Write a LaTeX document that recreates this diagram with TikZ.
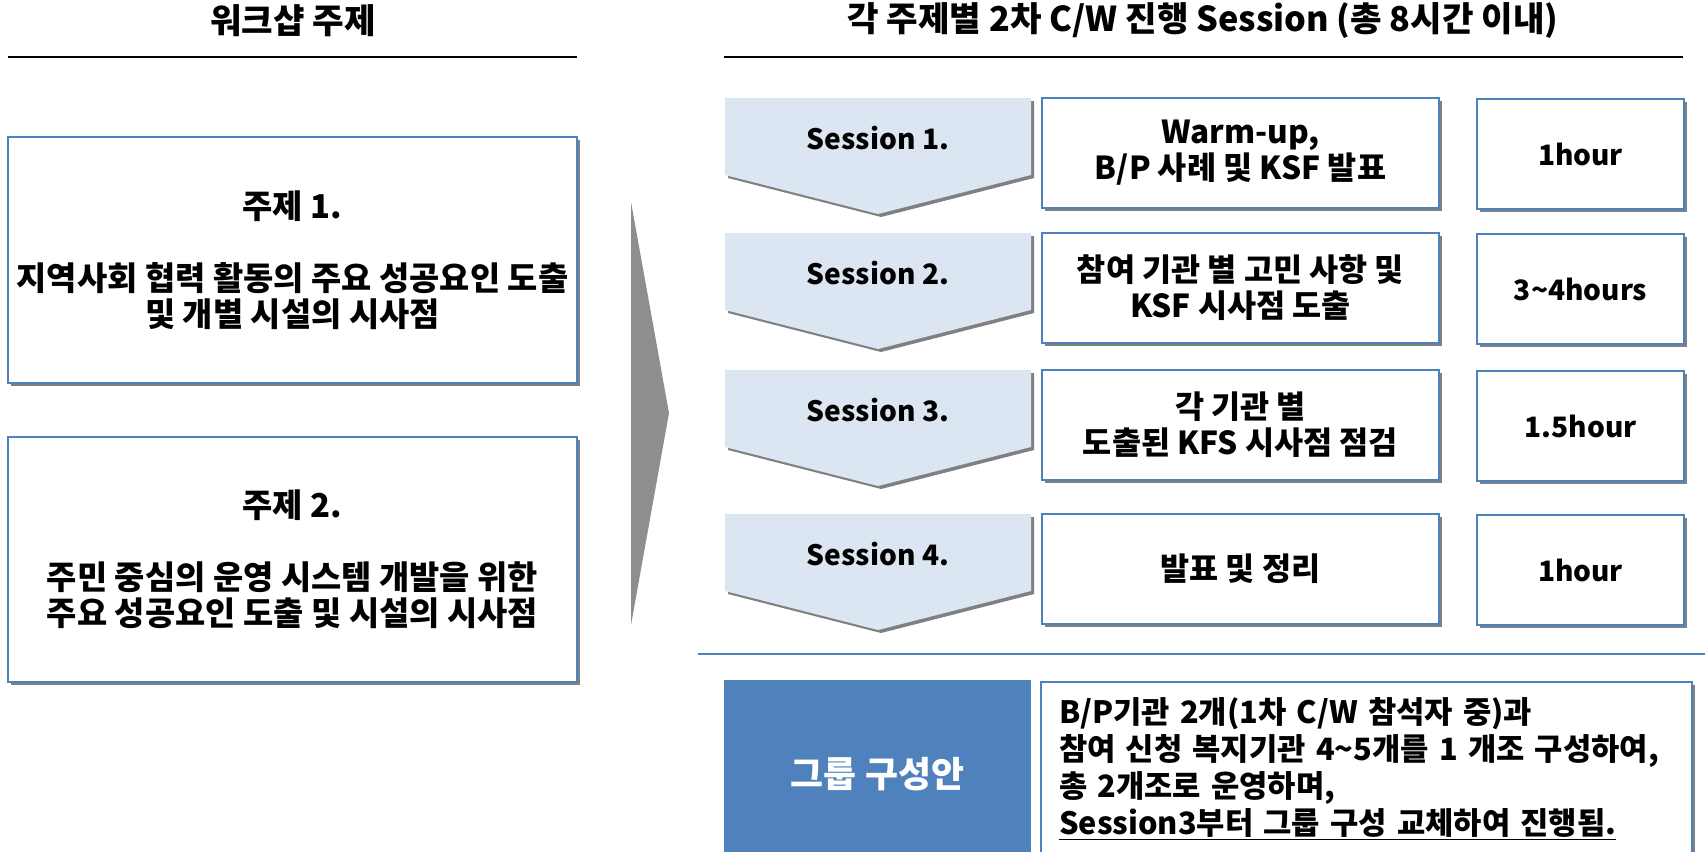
\documentclass[tikz,border=0pt]{standalone}
\usepackage{fontspec}
\setmainfont{Noto Sans CJK KR}
\usetikzlibrary{shadows}
\definecolor{boxblue}{HTML}{4F81BD}
\definecolor{sessfill}{HTML}{DCE6F2}
\definecolor{arrowgray}{HTML}{8E8E8E}
\newcommand{\ulthick}[1]{\setbox0\hbox{#1}\leavevmode\rlap{\rule[-3.5pt]{\wd0}{1pt}}\box0}
\newcommand{\sz}[1]{\bfseries\fontsize{#1}{20.5}\selectfont}
\tikzset{
  txt/.style={font=\sz{18}, align=center},
  boxshadow/.style={drop shadow={shadow xshift=0.06cm, shadow yshift=-0.06cm, fill=black!50, opacity=1}},
  whitebox/.style={txt, draw=boxblue, line width=0.8pt, fill=white, boxshadow, inner sep=0pt},
  sessarrow/.style={fill=sessfill, boxshadow},
  headline/.style={line width=1.2pt},
}
\begin{document}
\begin{tikzpicture}[x=0.02cm, y=-0.02cm]
  \useasboundingbox (0,0) rectangle (1705,852);
  \clip (0,0) rectangle (1705,852);
  % headings
  \node[txt, font=\sz{19.5}] (lhead) at (293,21) {워크샵 주제};
  \node[txt, font=\sz{19.5}] (rhead) at (1203,21) {각 주제별 2차 C/W 진행 Session (총 8시간 이내)};
  \draw[headline] (8,57) -- (577,57);
  \draw[headline] (724,57) -- (1683,57);
%
  \node[whitebox, font=\sz{18.7}, minimum width=11.38cm, minimum height=4.92cm] (topic1) at (292.5,260)
    {주제 1.\\[20.5pt]지역사회 협력 활동의 주요 성공요인 도출\\및 개별 시설의 시사점};
  \node[whitebox, font=\sz{18.7}, minimum width=11.38cm, minimum height=4.9cm] (topic2) at (292.5,559.5)
    {주제 2.\\[20.5pt]주민 중심의 운영 시스템 개발을 위한\\주요 성공요인 도출 및 시설의 시사점};
  \fill[arrowgray] (631,202) -- (669,413) -- (631,625) -- cycle;
%
  \foreach \y/\n/\what/\time in {98/1/{Warm-up,\\B/P 사례 및 KSF 발표}/1hour,
      233/2/{참여 기관 별 고민 사항 및\\KSF 시사점 도출}/3\textasciitilde4hours,
      370/3/{각 기관 별\\도출된 KFS 시사점 점검}/1.5hour,
      514/4/{발표 및 정리}/1hour} {
    \path[sessarrow] (725,\y) -- (1031,\y) -- (1031,\y+77) -- (878,\y+116) -- (725,\y+77) -- cycle;
    \node[txt, font=\sz{16}] (s\n) at (878,\y+40) {Session \n.};
    \node[whitebox, minimum width=7.94cm, minimum height=2.2cm] (c\n) at (1240.5,\y+55) {\what};
    \node[whitebox, font=\sz{16}, minimum width=4.14cm, minimum height=2.2cm] (t\n) at (1580.5,\y+56) {\time};
  }
%
  \draw[boxblue, line width=1.1pt] (698,654) -- (1705,654);
  \node[txt, fill=boxblue, text=white, minimum width=6.14cm, minimum height=3.78cm,
    font=\sz{20.4}] (group) at (877.5,774.5) {그룹 구성안};
  \node[whitebox, minimum width=13.02cm, minimum height=3.48cm, align=left, text width=12.3cm,
    font=\bfseries\fontsize{17.5}{21}\selectfont] (plan) at (1366.5,769)
    {B/P기관 2개(1차 C/W 참석자 중)과\\
     참여 신청 복지기관 4\textasciitilde5개를 1 개조 구성하여,\\
     총 2개조로 운영하며,\\
     \ulthick{Session3부터 그룹 구성 교체하여 진행됨.}};
\end{tikzpicture}
\end{document}
